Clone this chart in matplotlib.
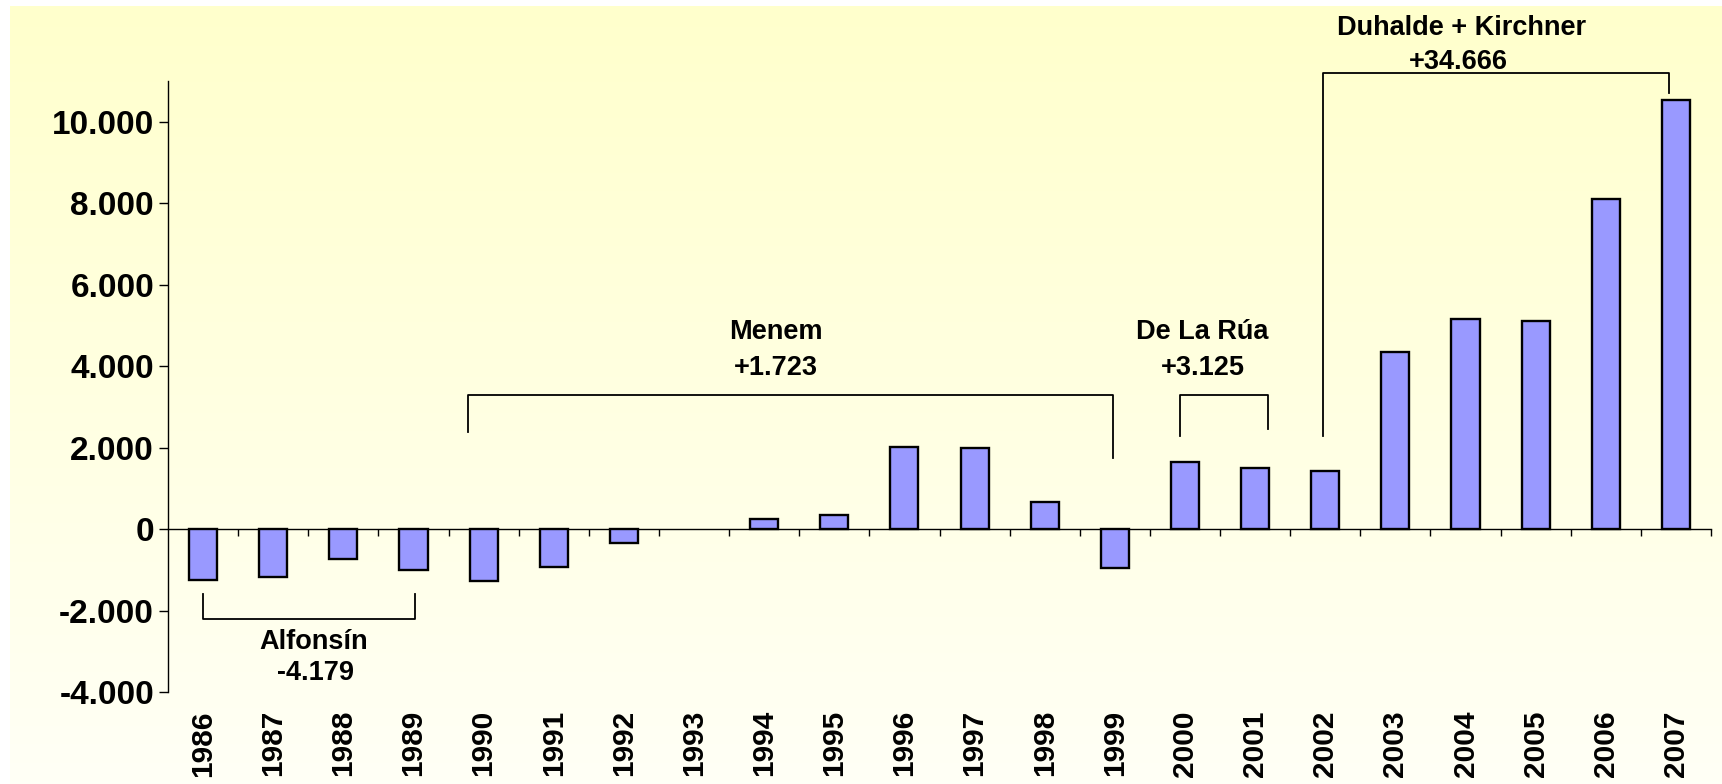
import numpy as np
import matplotlib
matplotlib.use("Agg")
import matplotlib.pyplot as plt

plt.rcParams['font.family'] = ['Liberation Sans', 'DejaVu Sans']
plt.rcParams['font.weight'] = 'bold'

# data
years = [str(y) for y in range(1986, 2008)]
values = [-1250, -1170, -740, -1000, -1280, -930, -340, 0, 240, 350,
          2020, 1990, 660, -950, 1650, 1490, 1420, 4345, 5165, 5115,
          8110, 10540]

# presidencies: label, total, bracket x range (bar index), bracket y, left/right end, text pos
periods = [
    ("Alfonsín", "-4.179", (0.0, 3.02), -2200, (-1600, -1600), (1.58, -2776), (1.6, -3528)),
    ("Menem", "+1.723", (3.78, 12.97), 3290, (2390, 1740), (8.16, 4840), (8.16, 3956)),
    ("De La Rúa", "+3.125", (13.93, 15.19), 3290, (2285, 2460), (14.25, 4840), (14.25, 3956)),
    ("Duhalde + Kirchner", "+34.666", (15.97, 20.9), 11190, (2280, 10700), (17.95, 12295), (17.9, 11460)),
]

fig = plt.figure(figsize=(17.22, 7.84), dpi=100)

# yellow gradient background
bg = fig.add_axes([10 / 1722, 0, 1 - 10 / 1722, 1 - 6 / 784], zorder=-5)
top = np.array([255, 255, 204]) / 255
bot = np.array([255, 255, 246]) / 255
t = np.linspace(0, 1, 256)[:, None]
grad = top[None, :] * (1 - t) + bot[None, :] * t
bg.imshow(grad[:, None, :], aspect='auto', extent=[0, 1, 0, 1])
bg.axis('off')

ax = fig.add_axes([168 / 1722, 92 / 784, (1711 - 168) / 1722, (692 - 81) / 784])
ax.set_facecolor('none')

x = np.arange(len(years))
edge_w = [1.7 if v != 0 else 0 for v in values]
ax.bar(x, values, width=0.4, color='#9999FF', edgecolor='black', linewidth=edge_w, zorder=3)

ax.set_xlim(-0.5, len(years) - 0.5)
ax.set_ylim(-4000, 11000)

yt = list(range(-4000, 10001, 2000))
ax.set_yticks(yt)
ax.set_yticklabels([f"{v:,}".replace(',', '.') for v in yt], fontsize=24, fontweight='bold')
ax.tick_params(axis='y', direction='out', length=6.5, width=1, pad=3.5)

ax.set_xticks(x)
ax.set_xticklabels(years, rotation=90, fontsize=21.5, fontweight='bold')
ax.tick_params(axis='x', length=0, pad=13)

for s in ['top', 'right', 'bottom']:
    ax.spines[s].set_visible(False)
ax.spines['left'].set_linewidth(1)

# zero line with category separators
zero_frac = (0 - (-4000)) / (11000 - (-4000))
sec = ax.secondary_xaxis(zero_frac)
sec.set_xticks(np.arange(0.5, len(years), 1.0))
sec.set_xticklabels([])
sec.tick_params(axis='x', direction='out', length=5, width=1)
sec.spines['bottom'].set_linewidth(1)

# brackets and labels
for name, total, (x0, x1), yb, (yl, yr), p1, p2 in periods:
    ax.plot([x0, x0, x1, x1], [yl, yb, yb, yr], color='black', lw=1.3,
            clip_on=False, zorder=4)
    ax.text(p1[0], p1[1], name, ha='center', va='center', fontsize=19.5,
            fontweight='bold', clip_on=False)
    ax.text(p2[0], p2[1], total, ha='center', va='center', fontsize=19.5,
            fontweight='bold', clip_on=False)

plt.savefig('out.png', dpi=100)
